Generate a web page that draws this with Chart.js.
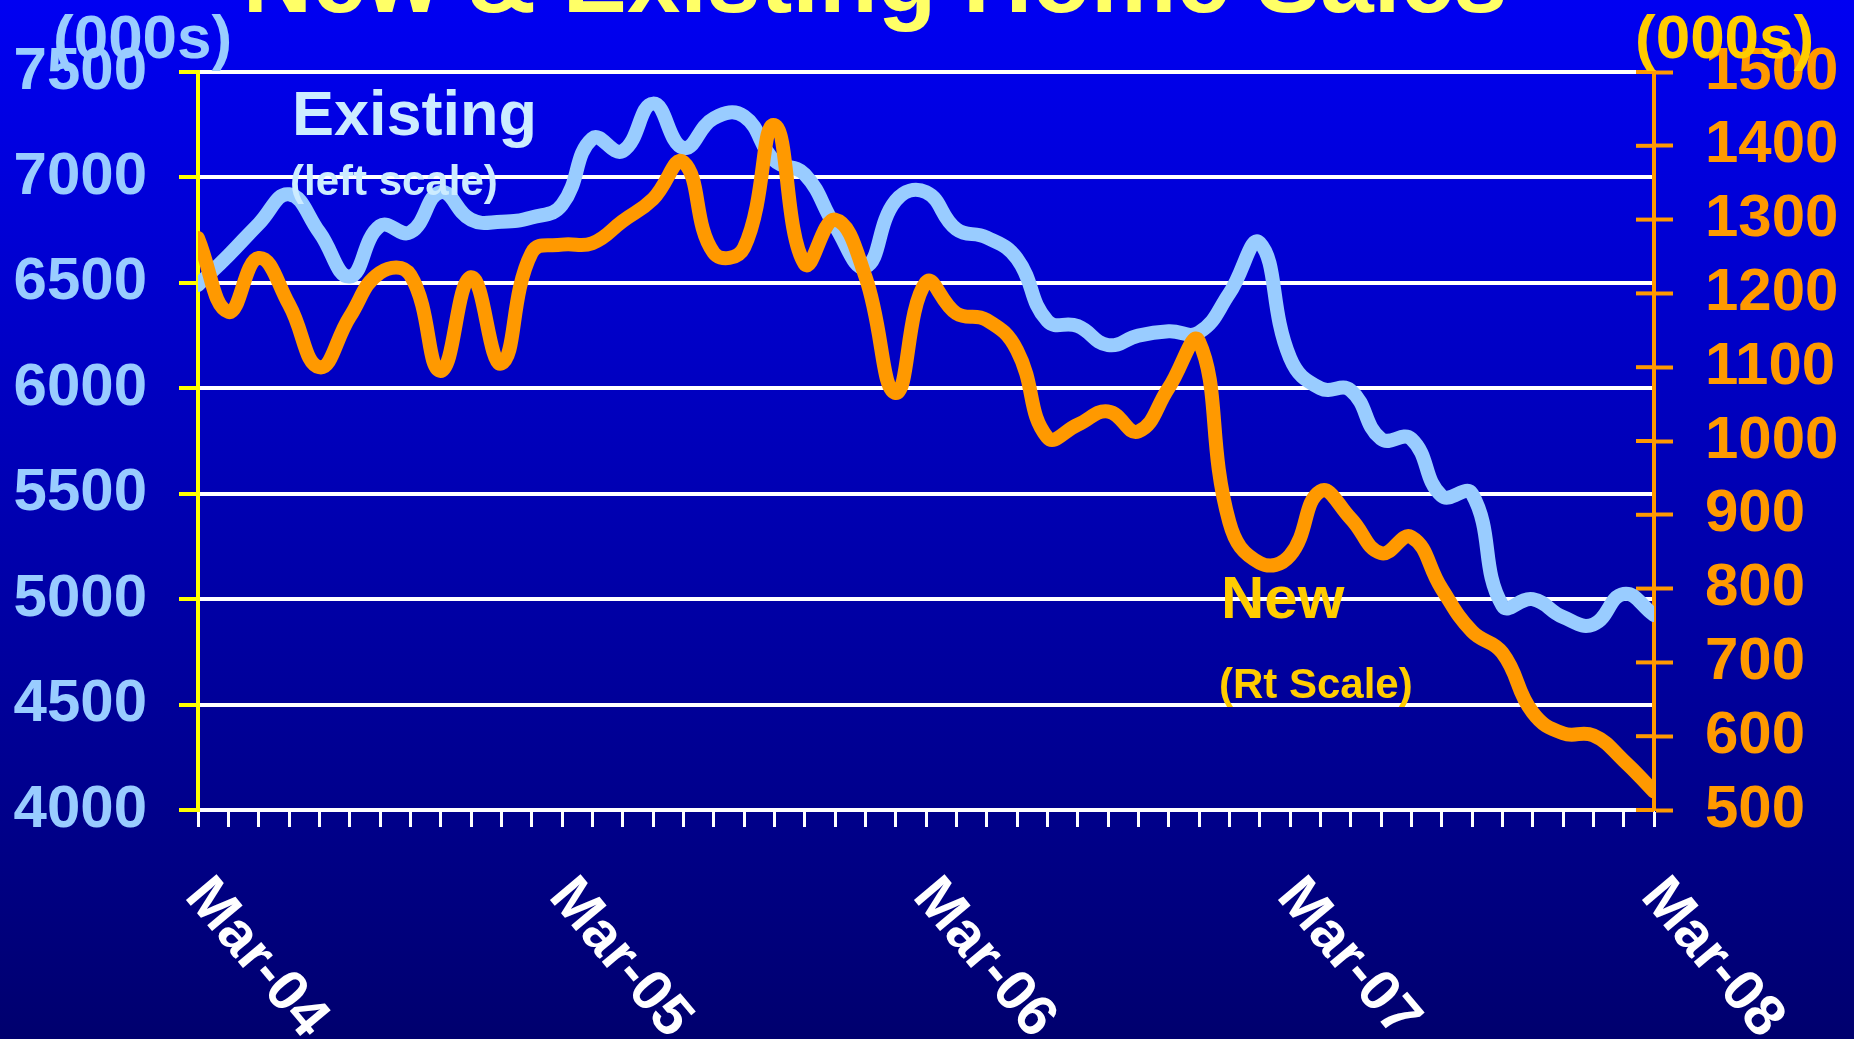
<!DOCTYPE html>
<html>
<head>
<meta charset="utf-8">
<script src="https://cdn.jsdelivr.net/npm/chart.js@4/dist/chart.umd.min.js"></script>
<style>
html,body{margin:0;padding:0;overflow:hidden;background:#000090;}
canvas{display:block;}
</style>
</head>
<body>
<canvas id="c" width="1854" height="1039"></canvas>
<script>
const categories = [
  'Mar-04','Apr-04','May-04','Jun-04','Jul-04','Aug-04','Sep-04','Oct-04','Nov-04','Dec-04','Jan-05','Feb-05',
  'Mar-05','Apr-05','May-05','Jun-05','Jul-05','Aug-05','Sep-05','Oct-05','Nov-05','Dec-05','Jan-06','Feb-06',
  'Mar-06','Apr-06','May-06','Jun-06','Jul-06','Aug-06','Sep-06','Oct-06','Nov-06','Dec-06','Jan-07','Feb-07',
  'Mar-07','Apr-07','May-07','Jun-07','Jul-07','Aug-07','Sep-07','Oct-07','Nov-07','Dec-07','Jan-08','Feb-08',
  'Mar-08'
];
const xTickLabels = ['Mar-04','Mar-05','Mar-06','Mar-07','Mar-08'];

// Existing home sales (000s), left scale
const existingSales = [
  6490, 6630, 6780, 6920, 6740, 6530, 6770, 6740, 6930, 6800, 6790, 6810,
  6870, 7185, 7125, 7350, 7140, 7280, 7290, 7080, 7015, 6770, 6575, 6890,
  6930, 6755, 6715, 6615, 6320, 6295, 6205, 6250, 6270, 6265, 6450, 6690,
  6145, 6000, 5990, 5760, 5760, 5490, 5500, 4970, 5000, 4915, 4880, 5025,
  4925
];
// New home sales (000s), right scale
const newSales = [
  1275, 1175, 1248, 1185, 1100, 1168, 1228, 1225, 1095, 1222, 1105, 1255,
  1266, 1268, 1298, 1328, 1378, 1255, 1262, 1428, 1240, 1300, 1223, 1065,
  1215, 1173, 1164, 1123, 1005, 1022, 1040, 1013, 1072, 1135, 890, 835,
  845, 932, 895, 848, 870, 800, 742, 713, 632, 604, 601, 567,
  525
];

const leftAxis = {min: 4000, max: 7500, step: 500};
const rightAxis = {min: 500, max: 1500, step: 100};

const titleText = 'New & Existing Home Sales';
const leftUnit = '(000s)';
const rightUnit = '(000s)';
const existingNote = ['Existing', '(left scale)'];
const newNote = ['New', '(Rt Scale)'];

const FAM = '"Liberation Sans", Arial, Helvetica, sans-serif';

const bgPlugin = {
  id: 'bg',
  beforeDraw(chart) {
    const {ctx, width, height} = chart;
    const g = ctx.createLinearGradient(0, 0, 0, height);
    g.addColorStop(0, '#0000F2');
    g.addColorStop(1, '#00006E');
    ctx.save();
    ctx.fillStyle = g;
    ctx.fillRect(0, 0, width, height);
    ctx.restore();
  },
  beforeDatasetsDraw(chart) {
    const ctx = chart.ctx;
    const y2 = chart.scales.y2;
    ctx.save();
    ctx.strokeStyle = '#FF9900';
    ctx.lineWidth = 4;
    y2.ticks.forEach(t => {
      const py = y2.getPixelForValue(t.value);
      ctx.beginPath();
      ctx.moveTo(y2.left - 18, py);
      ctx.lineTo(y2.left, py);
      ctx.stroke();
    });
    ctx.restore();
  }
};

const textPlugin = {
  id: 'texts',
  afterDraw(chart) {
    const ctx = chart.ctx;
    const xs = chart.scales.x;
    ctx.save();
    // rotated x labels
    ctx.font = 'bold 58px ' + FAM;
    ctx.fillStyle = '#FFFFFF';
    ctx.textAlign = 'left';
    ctx.textBaseline = 'top';
    categories.forEach((c, i) => {
      if (!xTickLabels.includes(c)) return;
      const px = xs.getPixelForValue(i);
      ctx.save();
      ctx.translate(px + 20, xs.top + 58);
      ctx.rotate(50 * Math.PI / 180);
      ctx.fillText(c, 0, 0);
      ctx.restore();
    });
    ctx.textBaseline = 'alphabetic';
    // title (cut off at top)
    ctx.font = 'bold 96px ' + FAM;
    ctx.fillStyle = '#FFFF66';
    ctx.textAlign = 'center';
    ctx.fillText(titleText, 875, 12);
    // unit labels
    ctx.textAlign = 'left';
    ctx.font = 'bold 62px ' + FAM;
    ctx.fillStyle = '#99CCFF';
    ctx.fillText(leftUnit, 53, 58);
    ctx.fillStyle = '#FFCC00';
    ctx.fillText(rightUnit, 1635, 58);
    // series notes
    ctx.fillStyle = '#CCECFF';
    ctx.font = 'bold 63px ' + FAM;
    ctx.fillText(existingNote[0], 292, 135);
    ctx.font = 'bold 42px ' + FAM;
    ctx.fillText(existingNote[1], 290, 195);
    ctx.fillStyle = '#FFCC00';
    ctx.font = 'bold 60px ' + FAM;
    ctx.fillText(newNote[0], 1221, 618);
    ctx.font = 'bold 42px ' + FAM;
    ctx.fillText(newNote[1], 1219, 698);
    ctx.restore();
  }
};

const plain = v => String(v);

new Chart(document.getElementById('c'), {
  type: 'line',
  data: {
    labels: categories,
    datasets: [
      {
        label: 'Existing',
        data: existingSales,
        yAxisID: 'y',
        borderColor: '#99CCFF',
        borderWidth: 14,
        pointRadius: 0,
        tension: 0.45,
        borderCapStyle: 'round',
        borderJoinStyle: 'round',
        fill: false,
        clip: 0,
        order: 1
      },
      {
        label: 'New',
        data: newSales,
        yAxisID: 'y2',
        borderColor: '#FF9900',
        borderWidth: 14,
        pointRadius: 0,
        tension: 0.45,
        borderCapStyle: 'round',
        borderJoinStyle: 'round',
        fill: false,
        clip: 0,
        order: 0
      }
    ]
  },
  options: {
    responsive: false,
    devicePixelRatio: 1,
    animation: false,
    events: [],
    layout: {padding: {top: 72, left: 0, right: 0, bottom: 0}},
    plugins: {
      legend: {display: false},
      title: {display: false},
      tooltip: {enabled: false}
    },
    scales: {
      x: {
        type: 'category',
        offset: false,
        grid: {display: true, drawOnChartArea: false, drawTicks: true, tickLength: 17, tickColor: '#FFFFFF', tickWidth: 3},
        border: {display: true, color: '#FFFFFF', width: 4},
        ticks: {display: false},
        afterFit(s) { s.height = 229; }
      },
      y: {
        position: 'left',
        min: leftAxis.min,
        max: leftAxis.max,
        ticks: {
          stepSize: leftAxis.step,
          autoSkip: false,
          color: '#99CCFF',
          padding: 32,
          callback: plain,
          font: {family: FAM, size: 60, weight: 'bold'}
        },
        grid: {color: '#FFFFFF', lineWidth: 4, tickColor: '#FFFF00', tickLength: 19, tickWidth: 4},
        border: {display: true, color: '#FFFF00', width: 4},
        afterFit(s) { s.width = 198; }
      },
      y2: {
        position: 'right',
        min: rightAxis.min,
        max: rightAxis.max,
        ticks: {
          stepSize: rightAxis.step,
          autoSkip: false,
          color: '#FF9900',
          padding: 32,
          callback: plain,
          font: {family: FAM, size: 60, weight: 'bold'}
        },
        grid: {drawOnChartArea: false, tickColor: '#FF9900', tickLength: 19, tickWidth: 4},
        border: {display: true, color: '#FF9900', width: 4},
        afterFit(s) { s.width = 200; }
      }
    }
  },
  plugins: [bgPlugin, textPlugin]
});
</script>
</body>
</html>
